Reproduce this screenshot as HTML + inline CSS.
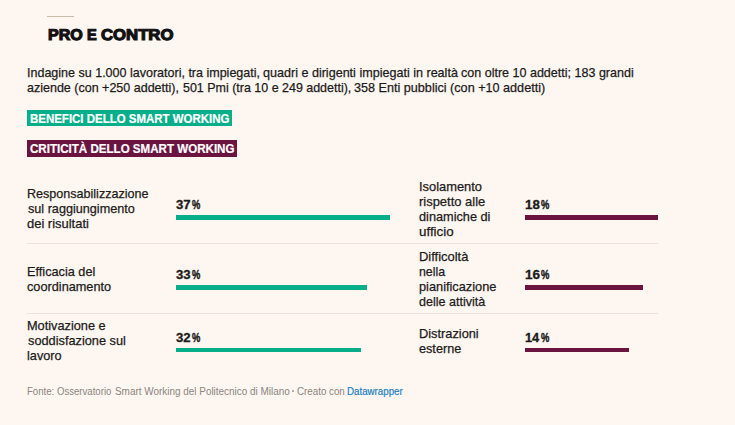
<!DOCTYPE html>
<html lang="it">
<head>
<meta charset="utf-8">
<title>Pro e contro</title>
<style>
html,body{margin:0;padding:0;}
body{width:735px;height:425px;background:#fef6f0;position:relative;overflow:hidden;
  font-family:"Liberation Sans",sans-serif;color:#1b1b1b;}
.t{position:absolute;white-space:nowrap;transform-origin:0 0;line-height:15px;font-size:13px;-webkit-text-stroke:.25px currentColor;}
.rule{position:absolute;left:47px;top:16px;width:27px;height:1px;background:#c9bba8;}
.title{font-size:15.6px;font-weight:bold;color:#111;line-height:19px;-webkit-text-stroke:1.15px #111;text-rendering:geometricPrecision;}
.box{position:absolute;}
.tag{font-size:12px;font-weight:bold;line-height:16px;color:#fff;-webkit-text-stroke:.2px #fff;}
.g{background:#06af8a;}
.p{background:#6b1440;}
.sep{position:absolute;left:27px;width:631px;height:1px;background:#ebe2de;}
.val{font-weight:bold;font-size:12.4px;-webkit-text-stroke:.3px currentColor;}
.pct{-webkit-text-stroke:.45px currentColor;}
.foot{font-size:10px;line-height:12px;color:#8a8582;-webkit-text-stroke:0;}
.link{color:#1d81c2;-webkit-text-stroke:.2px #1d81c2;}
.dot{position:absolute;width:2px;height:2px;border-radius:50%;background:#9a9592;}
</style>
</head>
<body>
<div class="rule"></div>
<div class="box g" style="left:27px;top:110px;width:205px;height:16px"></div>
<div class="box p" style="left:27px;top:140px;width:210px;height:17px"></div>
<div class="box g" style="left:176px;top:215px;width:214px;height:5px"></div>
<div class="box g" style="left:176px;top:285px;width:191px;height:5px"></div>
<div class="box g" style="left:176px;top:348px;width:185px;height:4px"></div>
<div class="box p" style="left:525px;top:215px;width:133px;height:5px"></div>
<div class="box p" style="left:525px;top:285px;width:118px;height:5px"></div>
<div class="box p" style="left:525px;top:348px;width:104px;height:4px"></div>
<div class="sep" style="top:243px"></div>
<div class="sep" style="top:313px"></div>
<div class="t title" style="left:47.90px;top:26px;transform:scaleX(1.0269)">PRO</div>
<div class="t title" style="left:87.01px;top:26px;transform:scaleX(0.9303)">E</div>
<div class="t title" style="left:101.40px;top:26px;transform:scaleX(1.0720)">CONTRO</div>
<div class="t " style="left:27.48px;top:65px;transform:scaleX(0.9625)">Indagine su 1.000 lavoratori, tra impiegati,</div>
<div class="t " style="left:262.99px;top:65px;transform:scaleX(0.9666)">quadri e dirigenti impiegati in realtà</div>
<div class="t " style="left:460.74px;top:65px;transform:scaleX(0.9635)">con oltre 10 addetti; 183 grandi</div>
<div class="t " style="left:27.49px;top:80px;transform:scaleX(0.9622)">aziende (con +250 addetti),</div>
<div class="t " style="left:182.50px;top:80px;transform:scaleX(0.9583)">501 Pmi (tra 10 e 249 addetti),</div>
<div class="t " style="left:353.50px;top:80px;transform:scaleX(0.9707)">358 Enti pubblici (con +10 addetti)</div>
<div class="t tag" style="left:30.00px;top:111px;transform:scaleX(0.9560)">BENEFICI DELLO SMART WORKING</div>
<div class="t tag" style="left:30.49px;top:141px;transform:scaleX(0.9645)">CRITICITÀ DELLO SMART WORKING</div>
<div class="t " style="left:27.00px;top:186px;transform:scaleX(0.9657)">Responsabilizzazione</div>
<div class="t " style="left:27.50px;top:201px;transform:scaleX(0.9720)">sul raggiungimento</div>
<div class="t " style="left:27.25px;top:216px;transform:scaleX(0.9957)">dei risultati</div>
<div class="t " style="left:27.23px;top:264px;transform:scaleX(0.9778)">Efficacia del</div>
<div class="t " style="left:27.25px;top:279px;transform:scaleX(0.9782)">coordinamento</div>
<div class="t " style="left:27.24px;top:318px;transform:scaleX(0.9804)">Motivazione e</div>
<div class="t " style="left:27.50px;top:333px;transform:scaleX(0.9819)">soddisfazione sul</div>
<div class="t " style="left:26.99px;top:348px;transform:scaleX(0.9763)">lavoro</div>
<div class="t " style="left:418.50px;top:179px;transform:scaleX(0.9903)">Isolamento</div>
<div class="t " style="left:418.96px;top:194px;transform:scaleX(0.9960)">rispetto alle</div>
<div class="t " style="left:419.24px;top:209px;transform:scaleX(0.9785)">dinamiche di</div>
<div class="t " style="left:418.94px;top:224px;transform:scaleX(1.0266)">ufficio</div>
<div class="t " style="left:418.50px;top:249px;transform:scaleX(0.9960)">Difficoltà</div>
<div class="t " style="left:419.00px;top:264px;transform:scaleX(0.9500)">nella</div>
<div class="t " style="left:418.97px;top:279px;transform:scaleX(0.9822)">pianificazione</div>
<div class="t " style="left:419.00px;top:294px;transform:scaleX(0.9646)">delle attività</div>
<div class="t " style="left:418.80px;top:326px;transform:scaleX(0.9838)">Distrazioni</div>
<div class="t " style="left:419.24px;top:341px;transform:scaleX(0.9735)">esterne</div>
<div class="t val" style="left:176.24px;top:198px;transform:scaleX(1.0621)">37</div>
<div class="t val pct" style="left:192.20px;top:198px;transform:scaleX(0.7513)">%</div>
<div class="t val" style="left:176.24px;top:268px;transform:scaleX(1.0621)">33</div>
<div class="t val pct" style="left:192.20px;top:268px;transform:scaleX(0.7513)">%</div>
<div class="t val" style="left:176.24px;top:331px;transform:scaleX(1.0621)">32</div>
<div class="t val pct" style="left:192.20px;top:331px;transform:scaleX(0.7513)">%</div>
<div class="t val" style="left:525.18px;top:198px;transform:scaleX(1.0722)">18</div>
<div class="t val pct" style="left:540.55px;top:198px;transform:scaleX(0.7557)">%</div>
<div class="t val" style="left:525.18px;top:268px;transform:scaleX(1.0937)">16</div>
<div class="t val pct" style="left:540.55px;top:268px;transform:scaleX(0.7557)">%</div>
<div class="t val" style="left:524.96px;top:331px;transform:scaleX(1.0321)">14</div>
<div class="t val pct" style="left:540.55px;top:331px;transform:scaleX(0.7557)">%</div>
<div class="t foot" style="left:27.48px;top:386px;transform:scaleX(0.9610)">Fonte: Osservatorio</div>
<div class="t foot" style="left:114.96px;top:386px;transform:scaleX(0.9931)">Smart Working del Politecnico di Milano</div>
<div class="t foot" style="left:297.47px;top:386px;transform:scaleX(0.9773)">Creato con</div>
<div class="t foot link" style="left:346.97px;top:386px;transform:scaleX(0.9740)">Datawrapper</div>
<div class="dot" style="left:292.4px;top:389.7px"></div>
</body>
</html>
